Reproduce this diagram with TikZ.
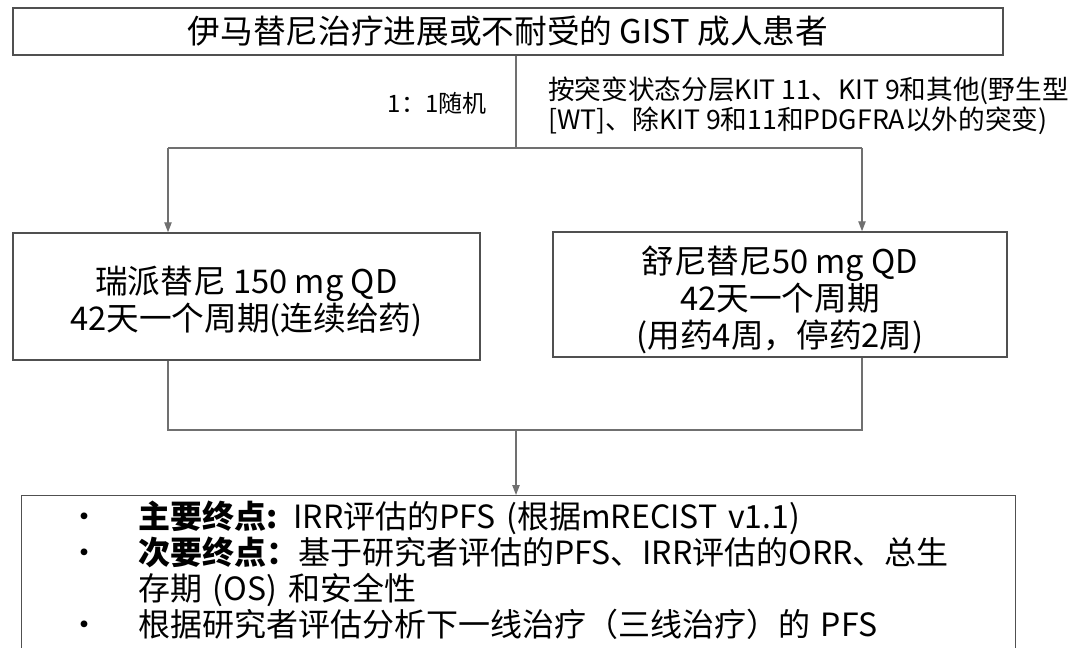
\documentclass[tikz,border=0pt]{standalone}
\usepackage{fontspec}
\setmainfont{Noto Sans CJK SC}
\usetikzlibrary{arrows.meta}
\definecolor{boxgray}{HTML}{505050}
\definecolor{linegray}{HTML}{707070}
\newcommand{\pxu}{0.75pt}
\newcommand{\bul}{\makebox[52.5pt][l]{•}}
\begin{document}
\begin{tikzpicture}[x=0.75pt,y=-0.75pt,
  box/.style={draw=boxgray, line width=1.1pt, inner sep=0pt, align=center},
  conn/.style={draw=linegray, line width=1pt},
  arr/.style={conn, -{Triangle[length=7.5pt,width=5.5pt]}},
  big/.style={font=\fontsize{24.5}{27.75}\selectfont},
  endfont/.style={font=\fontsize{24}{27}\selectfont},
  small/.style={font=\fontsize{20}{22.5}\selectfont},
]
\useasboundingbox (0,0) rectangle (1077,647);
\fill[white] (0,0) rectangle (1077,647);

\node[box, big, minimum width=990*\pxu, minimum height=47*\pxu] (top) at (508,31.5)
  {伊马替尼治疗进展或不耐受的 GIST 成人患者};

\node[box, big, minimum width=467*\pxu, minimum height=127*\pxu] (left) at (246.5,296.5)
  {\rule{0pt}{28.5pt}瑞派替尼 150 mg QD\\42天一个周期(连续给药)};
\node[box, big, minimum width=454*\pxu, minimum height=125*\pxu] (right) at (780,294.5)
  {\rule{0pt}{28.5pt}舒尼替尼50 mg QD\\42天一个周期\\(用药4周，停药2周)};

\node[font=\fontsize{18}{22}\selectfont, inner sep=0pt] (ratio) at (437,103) {1：1随机};
\node[small, inner sep=0pt, anchor=west, align=left] (strat) at (548,106)
  {按突变状态分层KIT 11、KIT 9和其他(野生型\\{}[WT]、除KIT 9和11和PDGFRA以外的突变)};

\node[box, anchor=north west, minimum width=994*\pxu, minimum height=200*\pxu] (endbox) at (21,495) {};
\node[endfont, anchor=north west, inner sep=0pt, text width=990*\pxu, align=left] (endtxt) at (21,501)
  {\hspace*{35.25pt}\bul\textbf{主要终点:} IRR评估的PFS (根据mRECIST v1.1)\\
   \hspace*{35.25pt}\bul\textbf{次要终点：}基于研究者评估的PFS、IRR评估的ORR、总生\\
   \hspace*{87.75pt}存期 (OS) 和安全性\\
   \hspace*{35.25pt}\bul 根据研究者评估分析下一线治疗（三线治疗）的 PFS};

\coordinate (split) at (516,148);
\coordinate (sl) at (168,148);
\coordinate (sr) at (862,148);
\coordinate (ml) at (168,430);
\coordinate (mr) at (862,430);
\coordinate (merge) at (516,430);

\draw[conn] (top.south -| split) -- (split);
\draw[conn] (sl) -- (sr);
\draw[arr] (sl) -- (left.north -| sl);
\draw[arr] (sr) -- (right.north -| sr);
\draw[conn] (left.south -| ml) -- (ml) -- (mr) -- (right.south -| mr);
\draw[arr] (merge) -- (endbox.north -| merge);
\end{tikzpicture}
\end{document}
